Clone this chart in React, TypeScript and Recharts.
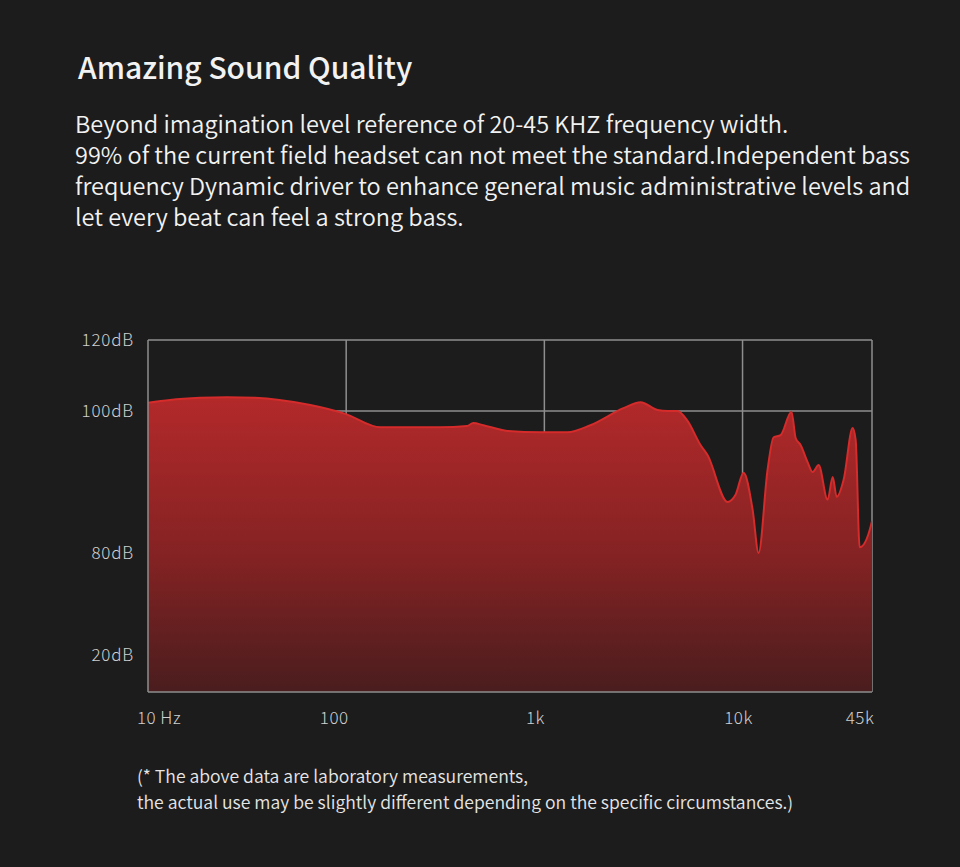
import { Area, AreaChart, CartesianGrid, XAxis, YAxis } from "recharts";

// frequency response (Hz, dB)
const freqs = [
  10, 12.9, 18.3, 25, 34.7, 46, 66, 99, 149, 188, 298, 408, 438, 492, 650, 955, 1307, 1708, 2506, 3054,
  3722, 4180, 4695, 5277, 6138, 6656, 8397, 9220, 10120, 11240, 12050, 13370, 14350, 15560, 17660, 18530,
  19630, 21290, 22590, 24210, 26860, 28510, 29850, 32360, 35940, 37230, 38990, 44270, 45000,
];
const levelsDb = [
  102.3, 103.1, 103.7, 103.9, 103.7, 103.1, 101.7, 99.6, 97.7, 97.7, 97.7, 97.9, 98.3, 98.0, 97.2, 97.0, 97.0,
  98.0, 100.8, 102.5, 100.3, 100.0, 100.0, 98.6, 95.2, 93.8, 87.2, 88.2, 91.3, 86.1, 80.0, 91.7, 96.3, 96.6,
  99.9, 96.2, 95.2, 92.8, 91.4, 92.4, 87.5, 90.7, 87.9, 90.3, 97.6, 95.9, 80.8, 83.7, 84.5,
];

// the dB axis is not linear: these pairs define it
const axisDb = [0, 20, 80, 100, 120];
const axisUnits = [0, 37, 139, 281, 352];
const yTickDb = [20, 80, 100, 120];

const xTicks = [10, 100, 1000, 10000, 45000];
const xTickLabels = ["10 Hz", "100", "1k", "10k", "45k"];
const xTickShift = [11, -12, -9, -4, -12];

const FONT = '"Noto Sans CJK SC", "Noto Sans", sans-serif';

function toUnits(db: number) {
  for (let i = 1; i < axisDb.length; i++) {
    if (db <= axisDb[i] || i === axisDb.length - 1) {
      const t = (db - axisDb[i - 1]) / (axisDb[i] - axisDb[i - 1]);
      return axisUnits[i - 1] + t * (axisUnits[i] - axisUnits[i - 1]);
    }
  }
  return 0;
}

const data = freqs.map((f, i) => ({ f, level: toUnits(levelsDb[i]) }));

function XTick(props: any) {
  const { x, y, payload } = props;
  const i = xTicks.indexOf(payload.value);
  return (
    <text
      x={x + (xTickShift[i] ?? 0)}
      y={y + 24}
      textAnchor="middle"
      fill="#d0d0d0"
      fontSize={17}
      fontWeight={300}
      fontFamily={FONT}
      letterSpacing={0.5}
    >
      {xTickLabels[i]}
    </text>
  );
}

export default function App() {
  return (
    <div style={{ position: "absolute", left: 0, top: 0, width: 960, height: 867, background: "#1c1c1c", fontFamily: FONT, color: "#f2f2f2" }}>
      <div style={{ position: "absolute", left: 78, top: 44, fontSize: 30, fontWeight: 500, whiteSpace: "nowrap" }}>
        Amazing Sound Quality
      </div>
      <div style={{ position: "absolute", left: 75, top: 108, fontSize: 23.5, lineHeight: "31px", whiteSpace: "nowrap", fontWeight: 350 }}>
        <div>Beyond imagination level reference of 20-45 KHZ frequency width.</div>
        <div>99% of the current field headset can not meet the standard.Independent bass</div>
        <div>frequency Dynamic driver to enhance general music administrative levels and</div>
        <div>let every beat can feel a strong bass.</div>
      </div>

      <div style={{ position: "absolute", left: 0, top: 300 }}>
        <AreaChart width={960} height={440} data={data} margin={{ top: 40, right: 88, bottom: 8, left: 68 }}>
          <defs>
            <linearGradient id="fr" x1="0" y1="0" x2="0" y2="1">
              <stop offset="0%" stopColor="#b3292a" />
              <stop offset="55%" stopColor="#832223" />
              <stop offset="100%" stopColor="#4a1d1e" />
            </linearGradient>
          </defs>
          <CartesianGrid
            stroke="#8e8e8e"
            strokeWidth={1.5}
            horizontalValues={[toUnits(100), toUnits(120)]}
            verticalValues={[100, 1000, 10000, 45000]}
          />
          <XAxis
            dataKey="f"
            type="number"
            scale="log"
            domain={[10, 45000]}
            ticks={xTicks}
            allowDataOverflow
            tick={<XTick />}
            tickLine={false}
            axisLine={{ stroke: "#8e8e8e", strokeWidth: 1.5 }}
            height={40}
          />
          <YAxis
            type="number"
            domain={[0, 352]}
            ticks={yTickDb.map(toUnits)}
            tickFormatter={(v: number) => `${yTickDb[yTickDb.map(toUnits).indexOf(v)]}dB`}
            tick={{ fill: "#d0d0d0", fontSize: 17, fontWeight: 300, fontFamily: FONT, letterSpacing: 0.8 }}
            tickLine={false}
            tickSize={0}
            tickMargin={14}
            axisLine={{ stroke: "#8e8e8e", strokeWidth: 1.5 }}
            width={80}
          />
          <Area
            dataKey="level"
            type="monotoneX"
            stroke="#d52b2b"
            strokeWidth={2}
            fill="url(#fr)"
            fillOpacity={1}
            isAnimationActive={false}
          />
        </AreaChart>
      </div>

      <div style={{ position: "absolute", left: 137, top: 763, fontSize: 17.6, lineHeight: "26px", color: "#e6e6e6", whiteSpace: "nowrap", fontWeight: 350 }}>
        <div>(* The above data are laboratory measurements,</div>
        <div>the actual use may be slightly different depending on the specific circumstances.)</div>
      </div>
    </div>
  );
}
